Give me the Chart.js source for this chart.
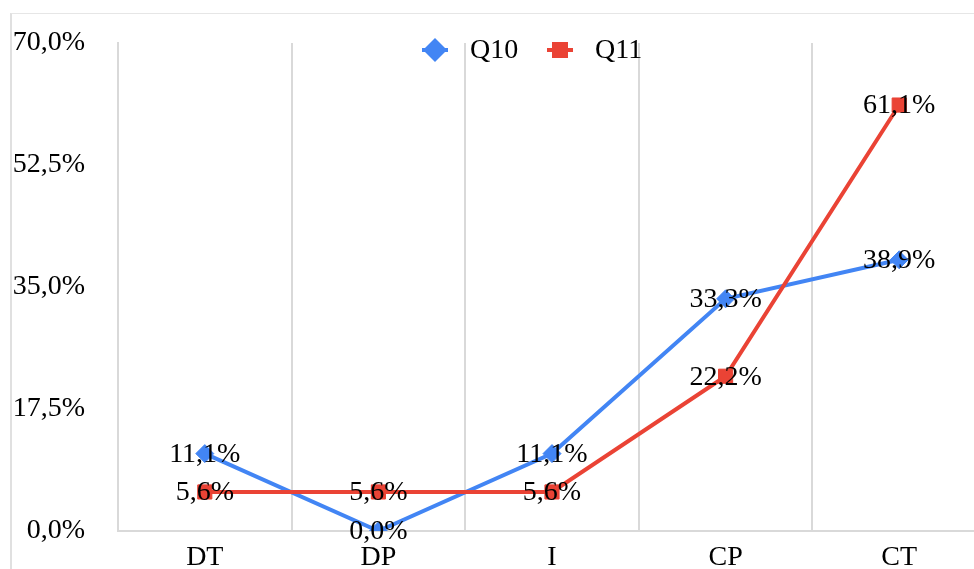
<!DOCTYPE html>
<html>
<head>
<meta charset="utf-8">
<style>
  html, body { margin: 0; padding: 0; background: #fff; overflow: hidden; width: 974px; height: 569px; }
  .frame { position: absolute; left: 10px; top: 13px; width: 1000px; height: 600px;
           border-top: 1px solid #e6e6e6; border-left: 2px solid #e0e0e0; }
  .wrap { position: absolute; left: 11px; top: 14px; width: 975px; height: 555px; }
</style>
</head>
<body>
<div class="frame"></div>
<div class="wrap"><canvas id="lineChart"></canvas></div>

<script src="https://cdn.jsdelivr.net/npm/chart.js"></script>
<script>
const categories = ['DT', 'DP', 'I', 'CP', 'CT'];
const q10Values = [11.1, 0.0, 11.1, 33.3, 38.9];
const q11Values = [5.6, 5.6, 5.6, 22.2, 61.1];
const seriesNames = ['Q10', 'Q11'];
const yTicks = [0, 17.5, 35, 52.5, 70];

const BLUE = '#4285F4';
const RED = '#EA4335';
const FONT = '"Liberation Serif", "Times New Roman", serif';

function fmt(v) {
    return v.toFixed(1).replace('.', ',') + '%';
}

// value labels centred on each point
const pointLabels = {
    id: 'pointLabels',
    afterDatasetsDraw(chart) {
        const ctx = chart.ctx;
        ctx.save();
        ctx.font = '28px ' + FONT;
        ctx.fillStyle = '#000';
        ctx.textAlign = 'center';
        ctx.textBaseline = 'middle';
        chart.data.datasets.forEach((ds, i) => {
            const meta = chart.getDatasetMeta(i);
            meta.data.forEach((pt, j) => {
                ctx.fillText(fmt(ds.data[j]), pt.x, pt.y + 1);
            });
        });
        ctx.restore();
    }
};

// excel-like legend sitting on top of the plot
const topLegend = {
    id: 'topLegend',
    afterDraw(chart) {
        const ctx = chart.ctx;
        const y = 36;
        const items = [
            { x: 424, color: BLUE, shape: 'diamond', text: seriesNames[0] },
            { x: 549, color: RED, shape: 'square', text: seriesNames[1] }
        ];
        ctx.save();
        items.forEach(it => {
            ctx.strokeStyle = it.color;
            ctx.fillStyle = it.color;
            ctx.lineWidth = 4;
            ctx.beginPath();
            ctx.moveTo(it.x - 13, y);
            ctx.lineTo(it.x + 13, y);
            ctx.stroke();
            ctx.beginPath();
            if (it.shape === 'diamond') {
                ctx.moveTo(it.x, y - 12);
                ctx.lineTo(it.x + 12, y);
                ctx.lineTo(it.x, y + 12);
                ctx.lineTo(it.x - 12, y);
                ctx.closePath();
            } else {
                ctx.rect(it.x - 8, y - 8, 16, 16);
            }
            ctx.fill();
            ctx.fillStyle = '#000';
            ctx.font = '28px ' + FONT;
            ctx.textAlign = 'left';
            ctx.textBaseline = 'middle';
            ctx.fillText(it.text, it.x + 35, y + 1);
        });
        ctx.restore();
    }
};

const ctx = document.getElementById('lineChart').getContext('2d');
new Chart(ctx, {
    type: 'line',
    data: {
        labels: categories,
        datasets: [
            {
                label: seriesNames[0],
                data: q10Values,
                borderColor: BLUE,
                backgroundColor: BLUE,
                borderWidth: 4,
                pointStyle: 'rectRot',
                pointRadius: 9,
                pointBorderWidth: 1,
                fill: false,
                tension: 0,
                order: 1
            },
            {
                label: seriesNames[1],
                data: q11Values,
                borderColor: RED,
                backgroundColor: RED,
                borderWidth: 4,
                pointStyle: 'rect',
                pointRadius: 10,
                pointBorderWidth: 1,
                fill: false,
                tension: 0,
                order: 0
            }
        ]
    },
    plugins: [pointLabels, topLegend],
    options: {
        responsive: true,
        maintainAspectRatio: false,
        animation: false,
        layout: { autoPadding: false, padding: { top: 29, right: 0, bottom: 0, left: 0 } },
        plugins: {
            legend: { display: false },
            tooltip: { enabled: false }
        },
        scales: {
            x: {
                offset: true,
                grid: { display: true, offset: true, color: '#d9d9d9', lineWidth: 2, drawTicks: false },
                border: { display: true, color: '#d9d9d9', width: 2 },
                ticks: { color: '#000', font: { family: FONT, size: 28 }, padding: 10 },
                afterFit(scale) { scale.height = 38; }
            },
            y: {
                min: 0,
                max: 70,
                grid: { display: false, drawTicks: false },
                border: { display: true, color: '#d9d9d9', width: 2 },
                afterBuildTicks(scale) { scale.ticks = yTicks.map(v => ({ value: v })); },
                ticks: {
                    color: '#000',
                    font: { family: FONT, size: 28 },
                    padding: 33,
                    callback: v => fmt(v)
                },
                afterFit(scale) {
                    scale.width = 107;
                    scale.paddingTop = 14;
                    scale.paddingBottom = 14;
                }
            }
        }
    }
});
</script>
</body>
</html>
